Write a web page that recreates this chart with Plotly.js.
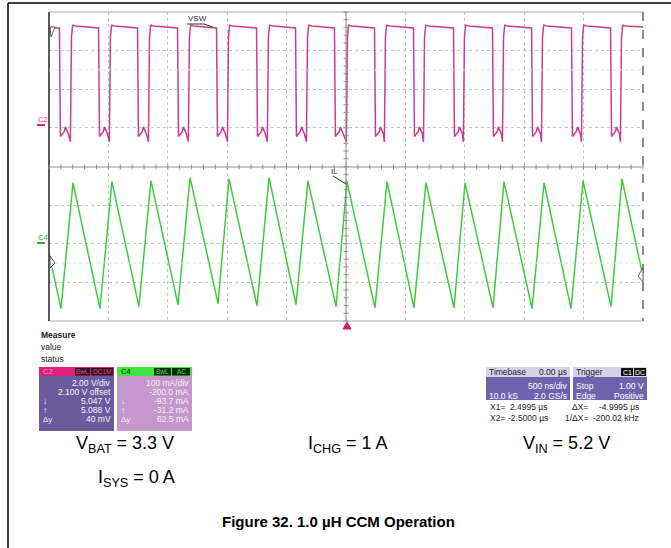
<!DOCTYPE html>
<html>
<head>
<meta charset="utf-8">
<script src="https://cdn.plot.ly/plotly-3.0.1.min.js"></script>
<style>html,body{margin:0;padding:0;background:#fff;}#chart{width:671px;height:548px;}</style>
</head>
<body>
<div id="chart"></div>
<script>
// ---- data (time in ns, VSW in V, IL in mA) ----
const vswFallNs = [-2408, -2079, -1751, -1414, -1086, -749, -421, -93, 244, 572, 909, 1237, 1566, 1902, 2231];
const vswRiseNs = [-2315, -1987, -1658, -1322, -993, -657, -328, 8, 328, 657, 993, 1322, 1650, 1987, 2315];
const vswHighStartV = 5.32;
const vswHighEndV = 5.17;
const vswLowDtNs = [10, 22, 36, 46, 58, 70];
const vswLowV = [-0.45, -0.3, -0.2, 0.05, -0.15, -0.3];
const vswDipV = -0.72;

const ilTimeNs = [-2500, -2399, -2298, -2071, -1970, -1743, -1642, -1414, -1313, -1077, -985, -749, -648, -421, -320, -84, 8, 244, 345, 572, 673, 909, 1002, 1237, 1330, 1566, 1667, 1894, 1995, 2231, 2323, 2500];
const ilValueMa = [-25, -168, 158, -168, 161, -163, 163, -158, 171, -155, 168, -161, 171, -158, 163, -163, 161, -166, 161, -166, 158, -166, 158, -166, 161, -168, 158, -168, 163, -163, 168, -85];

const c2Lines = [["", "2.00 V/div"], ["", "2.100 V offset"], ["\u2193", "5.047 V"], ["\u2191", "5.088 V"], ["\u0394y", "40 mV"]];
const c4Lines = [["", "100 mA/div"], ["", "-200.0 mA"], ["\u2193", "-93.7 mA"], ["\u2191", "-31.2 mA"], ["\u0394y", "62.5 mA"]];

// ---- build VSW polyline from the read edges ----
const vswT = [-2500], vswV = [vswHighEndV];
for (let i = 0; i < vswFallNs.length; i++) {
  const f = vswFallNs[i], r = vswRiseNs[i];
  vswT.push(f - 4); vswV.push(vswHighEndV);
  vswT.push(f + 4); vswV.push(vswLowV[0]);
  for (let k = 1; k < vswLowDtNs.length; k++) { vswT.push(f + vswLowDtNs[k]); vswV.push(vswLowV[k]); }
  vswT.push(r - 5); vswV.push(vswDipV);
  vswT.push(r + 4); vswV.push(4.7);
  vswT.push(r + 14); vswV.push(vswHighStartV);
  vswT.push(r + 40); vswV.push(5.28);
}
vswT.push(2500); vswV.push(5.22);

// ---- pixel helpers for decorations (plot area 49..643 x 12..321) ----
const L = 49, R = 643, T = 12, B = 321;
const xp = px => (px - L) / (R - L);
const yp = py => (B - py) / (B - T);

const shapes = [];
const ann = [];
function line(x0, y0, x1, y1, color, width, dash) {
  shapes.push({type: 'line', xref: 'paper', yref: 'paper', x0: xp(x0), y0: yp(y0), x1: xp(x1), y1: yp(y1),
    line: {color: color, width: width, dash: dash || 'solid'}, layer: 'above'});
}
function rect(x0, y0, x1, y1, fill) {
  shapes.push({type: 'rect', xref: 'paper', yref: 'paper', x0: xp(x0), y0: yp(y0), x1: xp(x1), y1: yp(y1),
    fillcolor: fill, line: {width: 0}, layer: 'above'});
}
function txt(x, y, s, opts) {
  opts = opts || {};
  ann.push({xref: 'paper', yref: 'paper', x: xp(x), y: yp(y), text: s, showarrow: false,
    xanchor: opts.xa || 'left', yanchor: 'middle',
    font: {family: opts.family || 'Liberation Sans, Arial, sans-serif', size: opts.size || 8.5, color: opts.color || '#222'},
    bgcolor: opts.bg || 'rgba(0,0,0,0)', borderpad: opts.pad || 0});
}

// outer frame
line(8, 3, 671, 3, '#000', 1.5);
line(8, 3, 8, 548, '#000', 1.5);

// plot frame
line(L, T, R, T, '#a8a8a8', 1);
line(L, B, R, B, '#a8a8a8', 1);
line(L, T, L, B, '#222', 1.5);
line(R, T, R, B, '#666', 1.5, 'dash');
line(L, 167, R, 167, '#909090', 1);
line(346, T, 346, B, '#909090', 1);
line(L, 70, R, 70, '#dedede', 1, 'dot');
line(L, 263, R, 263, '#dedede', 1, 'dot');
// center ticks
for (let i = 0; i <= 50; i++) {
  const x = L + (R - L) * i / 50;
  line(x, 164.5, x, 169.5, '#909090', 1);
}
for (let i = 0; i <= 40; i++) {
  const y = T + (B - T) * i / 40;
  line(343.5, y, 348.5, y, '#909090', 1);
}

// channel markers
txt(37, 120, 'C2', {color: '#d0307f', size: 7.5});
line(37, 125, 45, 125, '#d0307f', 2);
txt(37, 237, 'C4', {color: '#30b030', size: 7.5});
line(37, 243, 45, 243, '#30b030', 2);
// small cursor arrows
shapes.push({type: 'path', xref: 'paper', yref: 'paper', layer: 'above',
  path: `M ${xp(50)} ${yp(27)} L ${xp(55)} ${yp(27)} L ${xp(51)} ${yp(37)} Z`, line: {color: '#555', width: 1}, fillcolor: '#fff'});
shapes.push({type: 'path', xref: 'paper', yref: 'paper', layer: 'above',
  path: `M ${xp(50)} ${yp(256)} L ${xp(55)} ${yp(263)} L ${xp(50)} ${yp(268)} Z`, line: {color: '#555', width: 1}, fillcolor: '#fff'});
shapes.push({type: 'path', xref: 'paper', yref: 'paper', layer: 'above',
  path: `M ${xp(643)} ${yp(268)} L ${xp(638)} ${yp(276)} L ${xp(643)} ${yp(282)} Z`, line: {color: '#555', width: 1}, fillcolor: '#fff'});
// trigger marker
shapes.push({type: 'path', xref: 'paper', yref: 'paper', layer: 'above',
  path: `M ${xp(343)} ${yp(329)} L ${xp(351)} ${yp(329)} L ${xp(347)} ${yp(322)} Z`, line: {color: '#d0206e', width: 1}, fillcolor: '#d0206e'});

// trace labels
txt(187, 19, 'VSW', {color: '#333', size: 8});
line(187, 24, 204, 24, '#333', 1);
line(204, 24, 213, 27, '#333', 1);
txt(330, 171, 'IL', {color: '#333', size: 8});
line(333, 176, 346, 184, '#333', 1);

// Measure block
txt(40, 335, '<b>Measure</b>', {size: 8.5});
txt(40, 347, 'value', {size: 8.5});
txt(40, 359, 'status', {size: 8.5});

// C2 box
rect(39, 367, 114, 431, '#6a5c9c');
rect(39, 367, 114, 376, '#e0207a');
txt(42, 371.5, 'C2', {color: '#f5a0c8', size: 7.5});
rect(75, 368, 90, 375.5, '#2a0f1e');
txt(82.5, 371.5, 'BwL', {color: '#e84a90', size: 6.5, xa: 'center'});
rect(91, 368, 113, 375.5, '#2a0f1e');
txt(102, 371.5, 'DC1M', {color: '#e84a90', size: 6.5, xa: 'center'});
// C4 box
rect(117, 367, 192, 431, '#c597cc');
rect(117, 367, 192, 376, '#3ce63c');
txt(120, 371.5, 'C4', {color: '#111', size: 7.5});
rect(154, 368, 171, 375.5, '#0c2a0c');
txt(162.5, 371.5, 'BwL', {color: '#3ce63c', size: 6.5, xa: 'center'});
rect(172, 368, 190, 375.5, '#0c2a0c');
txt(181, 371.5, 'AC', {color: '#3ce63c', size: 6.5, xa: 'center'});
for (let i = 0; i < c2Lines.length; i++) {
  const y = 383 + i * 9;
  if (c2Lines[i][0]) txt(42, y, c2Lines[i][0], {color: '#f4f0ff', size: 8});
  txt(112, y, c2Lines[i][1], {color: '#f4f0ff', size: 8.5, xa: 'right'});
  if (c4Lines[i][0]) txt(120, y, c4Lines[i][0], {color: '#fbeefb', size: 8});
  txt(190, y, c4Lines[i][1], {color: '#fbeefb', size: 8.5, xa: 'right'});
}

// Timebase box
rect(486, 367, 570, 400, '#6e62ad');
rect(486, 367, 570, 377, '#d6d1e8');
txt(488, 372, 'Timebase', {color: '#222', size: 8.5});
txt(568, 372, '0.00 \u00b5s', {color: '#222', size: 8.5, xa: 'right'});
txt(568, 386, '500 ns/div', {color: '#fff', size: 8.5, xa: 'right'});
txt(488, 395.5, '10.0 kS', {color: '#fff', size: 8.5});
txt(568, 395.5, '2.0 GS/s', {color: '#fff', size: 8.5, xa: 'right'});
// Trigger box
rect(573, 367, 647, 400, '#6e62ad');
rect(573, 367, 647, 377, '#d6d1e8');
txt(575, 372, 'Trigger', {color: '#222', size: 8.5});
rect(621, 368, 633, 376, '#111');
txt(627, 372, 'C1', {color: '#fff', size: 7, xa: 'center'});
rect(634, 368, 646, 376, '#111');
txt(640, 372, 'DC', {color: '#fff', size: 7, xa: 'center'});
txt(575, 386, 'Stop', {color: '#fff', size: 8.5});
txt(645, 386, '1.00 V', {color: '#fff', size: 8.5, xa: 'right'});
txt(575, 395.5, 'Edge', {color: '#fff', size: 8.5});
txt(645, 395.5, 'Positive', {color: '#fff', size: 8.5, xa: 'right'});
// cursor readouts
txt(489, 407, 'X1=', {size: 8.5});
txt(549, 407, '2.4995 \u00b5s', {size: 8.5, xa: 'right'});
txt(589, 407, '\u0394X=', {size: 8.5, xa: 'right'});
txt(640, 407, '-4.9995 \u00b5s', {size: 8.5, xa: 'right'});
txt(489, 418, 'X2=', {size: 8.5});
txt(549, 418, '-2.5000 \u00b5s', {size: 8.5, xa: 'right'});
txt(589, 418, '1/\u0394X=', {size: 8.5, xa: 'right'});
txt(640, 418, '-200.02 kHz', {size: 8.5, xa: 'right'});

// conditions text
txt(75, 444, 'V<sub>BAT</sub> = 3.3 V', {size: 18, color: '#000'});
txt(307, 444, 'I<sub>CHG</sub> = 1 A', {size: 18, color: '#000'});
txt(522, 444, 'V<sub>IN</sub> = 5.2 V', {size: 18, color: '#000'});
txt(97, 478, 'I<sub>SYS</sub> = 0 A', {size: 18, color: '#000'});
txt(338, 521, '<b>Figure 32. 1.0 \u00b5H CCM Operation</b>', {size: 15, color: '#000', xa: 'center'});

const traces = [
  {x: vswT, y: vswV, xaxis: 'x', yaxis: 'y', mode: 'lines', line: {color: '#c93f8f', width: 1.5}, hoverinfo: 'skip'},
  {x: ilTimeNs, y: ilValueMa, xaxis: 'x', yaxis: 'y2', mode: 'lines', line: {color: '#3ccc3c', width: 1.5}, hoverinfo: 'skip'}
];

const gridStyle = {showgrid: true, gridcolor: '#c4c4c4', griddash: 'dot', gridwidth: 1, zeroline: false,
  showticklabels: false, ticks: '', showline: false, fixedrange: true};

const layout = {
  width: 671, height: 548,
  margin: {l: L, r: 671 - R, t: T, b: 548 - B, pad: 0},
  paper_bgcolor: '#fff', plot_bgcolor: '#fff',
  showlegend: false,
  xaxis: Object.assign({}, gridStyle, {range: [-2500, 2500], dtick: 500, tick0: 0, anchor: 'y2'}),
  yaxis: Object.assign({}, gridStyle, {range: [-2, 6], dtick: 2, tick0: 0, domain: [0.5, 1], anchor: 'x'}),
  yaxis2: Object.assign({}, gridStyle, {range: [-200, 200], dtick: 100, tick0: 0, domain: [0, 0.5], anchor: 'x'}),
  shapes: shapes,
  annotations: ann
};

Plotly.newPlot('chart', traces, layout, {staticPlot: true, displayModeBar: false});
</script>
</body>
</html>
